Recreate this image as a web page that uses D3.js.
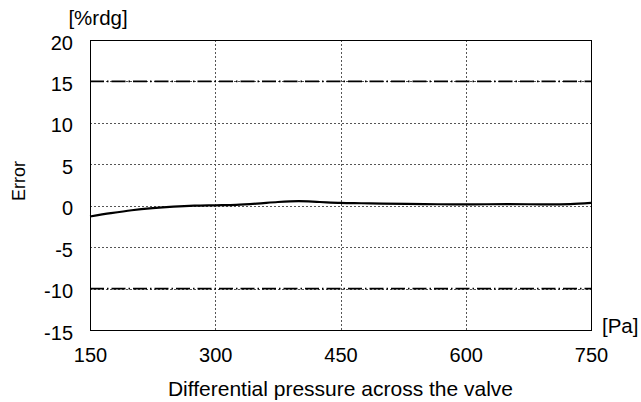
<!DOCTYPE html>
<meta charset="utf-8">
<style>

body {
  margin: 0;
  background: #fff;
}

text {
  font-family: "Liberation Sans", Arial, sans-serif;
  fill: #000;
}

.grid line {
  stroke: #555;
  stroke-width: 1px;
  stroke-dasharray: 2,2;
}

.limit {
  fill: none;
  stroke: #000;
  stroke-width: 1.7px;
  stroke-dasharray: 14,3,1.5,3;
}

.curve {
  fill: none;
  stroke: #000;
  stroke-width: 2.2px;
}

.frame {
  fill: none;
  stroke: #000;
  stroke-width: 1px;
}

</style>
<script src="https://d3js.org/d3.v7.min.js"></script>
<body>
<script>

var width = 641,
    height = 402;

var margin = {top: 40, right: 50, bottom: 72, left: 90};

// measured error curve, %rdg vs Pa
var pressure = [150, 175, 200, 225, 250, 275, 300, 325, 350, 375, 400, 425, 450, 475, 500, 550, 600, 650, 700, 725, 750];
var error    = [-1.3, -0.9, -0.55, -0.3, -0.12, 0, 0.05, 0.1, 0.25, 0.45, 0.55, 0.45, 0.35, 0.3, 0.25, 0.2, 0.15, 0.2, 0.15, 0.2, 0.35];

var limits = [15, -10];
var xTicks = [150, 300, 450, 600, 750];
var yTicks = [20, 15, 10, 5, 0, -5, -10, -15];

var svg = d3.select("body").append("svg")
    .attr("width", width)
    .attr("height", height)
    .style("display", "block");

var x = d3.scaleLinear()
    .domain([150, 750])
    .range([margin.left, width - margin.right]);

var y = d3.scaleLinear()
    .domain([-15, 20])
    .range([height - margin.bottom, margin.top]);

var grid = svg.append("g").attr("class", "grid");

grid.selectAll(".h")
    .data(yTicks.slice(1, -1))
  .enter().append("line")
    .attr("x1", x(150)).attr("x2", x(750))
    .attr("y1", function(d) { return Math.round(y(d)) + 0.5; })
    .attr("y2", function(d) { return Math.round(y(d)) + 0.5; });

grid.selectAll(".v")
    .data(xTicks.slice(1, -1))
  .enter().append("line")
    .attr("y1", y(20)).attr("y2", y(-15))
    .attr("x1", function(d) { return Math.round(x(d)) + 0.5; })
    .attr("x2", function(d) { return Math.round(x(d)) + 0.5; });

svg.selectAll(".limit")
    .data(limits)
  .enter().append("line")
    .attr("class", "limit")
    .attr("x1", x(150)).attr("x2", x(750))
    .attr("y1", function(d) { return y(d); })
    .attr("y2", function(d) { return y(d); });

var line = d3.line()
    .x(function(d, i) { return x(pressure[i]); })
    .y(function(d) { return y(d); })
    .curve(d3.curveMonotoneX);

svg.append("path")
    .datum(error)
    .attr("class", "curve")
    .attr("d", line);

svg.append("rect")
    .attr("class", "frame")
    .attr("x", Math.round(x(150)) + 0.5)
    .attr("y", Math.round(y(20)) + 0.5)
    .attr("width", Math.round(x(750) - x(150)))
    .attr("height", Math.round(y(-15) - y(20)));

// plain hyphen for negatives, like the original
var fmt = function(d) { return String(d); };

var yAxis = svg.append("g")
    .attr("transform", "translate(73,0)")
    .call(d3.axisLeft(y).tickValues(yTicks).tickFormat(fmt).tickSize(0).tickPadding(0));

var xAxis = svg.append("g")
    .attr("transform", "translate(0,362)")
    .call(d3.axisBottom(x).tickValues(xTicks).tickFormat(fmt).tickSize(0).tickPadding(0));

svg.selectAll(".domain").remove();
svg.selectAll(".tick text")
    .attr("font-size", 20)
    .attr("font-family", null);
yAxis.selectAll(".tick text").attr("dy", "0.45em");
xAxis.selectAll(".tick text").attr("y", 0).attr("dy", 0);

svg.append("text")
    .attr("x", 98)
    .attr("y", 25)
    .attr("text-anchor", "middle")
    .attr("font-size", 20.5)
    .text("[%rdg]");

svg.append("text")
    .attr("x", 602)
    .attr("y", 333)
    .attr("font-size", 20.5)
    .text("[Pa]");

svg.append("text")
    .attr("transform", "translate(25,181) rotate(-90)")
    .attr("text-anchor", "middle")
    .attr("font-size", 18)
    .text("Error");

svg.append("text")
    .attr("x", (x(150) + x(750)) / 2)
    .attr("y", 396)
    .attr("text-anchor", "middle")
    .attr("font-size", 21)
    .text("Differential pressure across the valve");

</script>
</body>
